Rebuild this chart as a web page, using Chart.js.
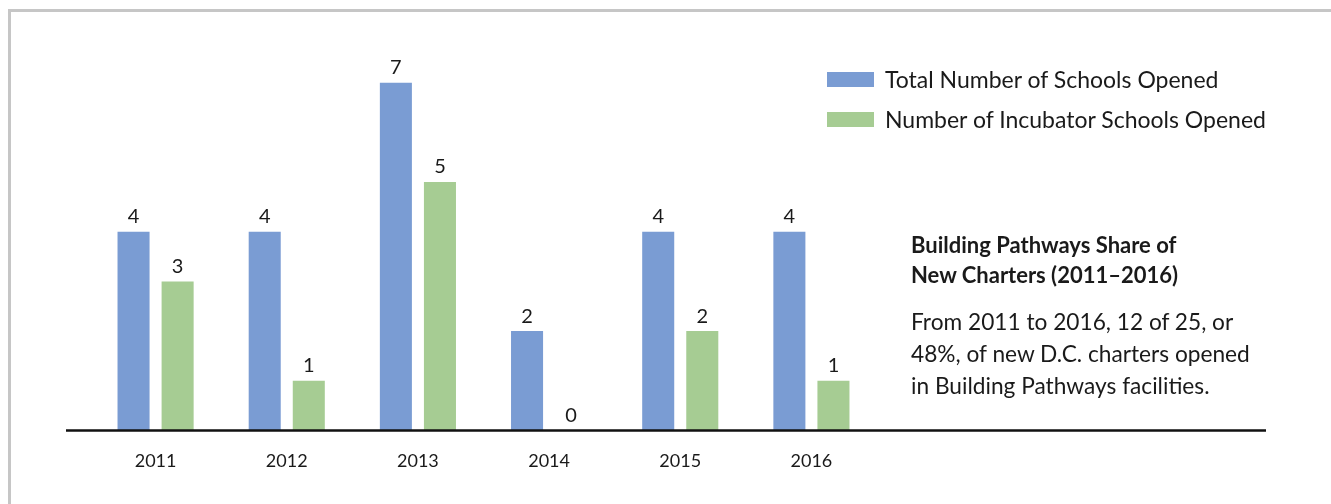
<!DOCTYPE html>
<html><head><meta charset="utf-8">
<script src="https://cdn.jsdelivr.net/npm/chart.js@4"></script>
<style>
html,body{margin:0;padding:0;background:#fff;}
#wrap{position:relative;width:1331px;height:504px;overflow:hidden;font-family:Lato,"Open Sans",sans-serif;color:#1a1a1a;background:#fff;}
#frame{position:absolute;left:8px;top:9px;width:1400px;height:600px;border:3px solid #c6c6c6;box-sizing:border-box;}
#c{position:absolute;left:0;top:0;}
#legend{position:absolute;left:827px;top:59px;}
.row{display:flex;align-items:center;height:40px;font-size:23px;white-space:nowrap;}
.sw{width:47px;height:15px;margin-right:11px;flex:none;}
#note{position:absolute;left:911px;top:230px;width:420px;white-space:nowrap;}
#note h3{margin:0;font-size:22px;font-weight:bold;line-height:30px;}
#note p{margin:16px 0 0;font-size:22.7px;line-height:32px;}
</style></head>
<body>
<div id="wrap">
  <div id="frame"></div>
  <canvas id="c" width="1331" height="504"></canvas>
  <div id="legend"></div>
  <div id="note">
    <h3>Building Pathways Share of<br>New Charters (2011–2016)</h3>
    <p>From 2011 to 2016, 12 of 25, or<br>48%, of new D.C. charters opened<br>in Building Pathways facilities.</p>
  </div>
</div>
<script>
const categories = ['2011', '2012', '2013', '2014', '2015', '2016'];
const totalOpened = [4, 4, 7, 2, 4, 4];
const incubatorOpened = [3, 1, 5, 0, 2, 1];
const seriesLabels = ['Total Number of Schools Opened', 'Number of Incubator Schools Opened'];
const seriesColors = ['#7A9CD3', '#A6CC93'];

const FONT = 'Lato, "Open Sans", sans-serif';
const TEXT = '#1a1a1a';

const decorPlugin = {
  id: 'decor',
  afterDatasetsDraw(chart) {
    const ctx = chart.ctx;
    const y0 = chart.scales.y.getPixelForValue(0);
    ctx.save();
    ctx.strokeStyle = '#111';
    ctx.lineWidth = 2.5;
    ctx.beginPath();
    ctx.moveTo(66, y0);
    ctx.lineTo(1266, y0);
    ctx.stroke();
    ctx.fillStyle = TEXT;
    ctx.font = '20px ' + FONT;
    ctx.textAlign = 'center';
    ctx.textBaseline = 'bottom';
    chart.data.datasets.forEach((ds, i) => {
      chart.getDatasetMeta(i).data.forEach((bar, j) => {
        ctx.fillText(String(ds.data[j]), bar.x, bar.y - 5);
      });
    });
    ctx.restore();
  }
};

const chart = new Chart(document.getElementById('c'), {
  type: 'bar',
  data: {
    labels: categories,
    datasets: [
      { label: seriesLabels[0], data: totalOpened, backgroundColor: seriesColors[0] },
      { label: seriesLabels[1], data: incubatorOpened, backgroundColor: seriesColors[1] }
    ]
  },
  options: {
    responsive: false,
    animation: false,
    devicePixelRatio: 1,
    categoryPercentage: 0.672,
    barPercentage: 0.727,
    layout: { padding: { left: 90, right: 454, top: 33, bottom: 12 } },
    scales: {
      x: {
        grid: { display: false, drawTicks: false },
        border: { display: false },
        ticks: { color: TEXT, font: { family: FONT, size: 18 }, padding: 20 }
      },
      y: { display: false, min: 0, max: 8 }
    },
    plugins: { legend: { display: false }, tooltip: { enabled: false } }
  },
  plugins: [decorPlugin]
});

const legend = document.getElementById('legend');
chart.data.datasets.forEach(ds => {
  const row = document.createElement('div');
  row.className = 'row';
  const sw = document.createElement('span');
  sw.className = 'sw';
  sw.style.background = ds.backgroundColor;
  const t = document.createElement('span');
  t.textContent = ds.label;
  row.appendChild(sw);
  row.appendChild(t);
  legend.appendChild(row);
});
</script>
</body></html>
